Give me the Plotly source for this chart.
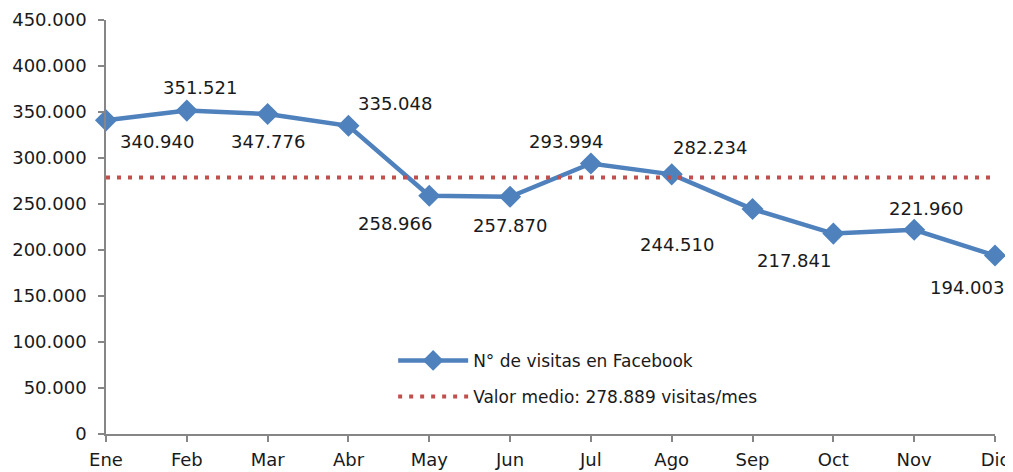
import plotly.graph_objects as go

months = ["Ene", "Feb", "Mar", "Abr", "May", "Jun", "Jul", "Ago", "Sep", "Oct", "Nov", "Dic"]
visits = [340940, 351521, 347776, 335048, 258966, 257870, 293994, 282234, 244510, 217841, 221960, 194003]
mean_value = 278889
y_ticks = [0, 50000, 100000, 150000, 200000, 250000, 300000, 350000, 400000, 450000]

series_name = "N° de visitas en Facebook"
mean_name = "Valor medio: 278.889 visitas/mes"

# label offsets (pixels) relative to each point
label_dx = [51, 13, 0, 47, -34, 0, -25, 38, -76, -39, 12, -28]
label_dy = [-21, 23, -27, 22, -28, -29, 22, 27, -35, -27, 21, -32]

blue = "#4F81BD"
red = "#C0504D"
axis_col = "#868686"
font_family = "DejaVu Sans"

def fmt(v):
    return f"{v:,}".replace(",", ".")

fig = go.Figure()
fig.add_trace(go.Scatter(
    x=months, y=visits, mode="lines+markers", name=series_name,
    line=dict(color=blue, width=4.5),
    marker=dict(symbol="diamond", size=17, color=blue),
    cliponaxis=False, legendgroup="a",
))
fig.add_trace(go.Scatter(
    x=months, y=[mean_value] * len(months), mode="lines", name=mean_name,
    line=dict(color=red, width=4, dash="4px,7px"),
    cliponaxis=False, legendgroup="b",
))

for m, v, dx, dy in zip(months, visits, label_dx, label_dy):
    fig.add_annotation(x=m, y=v, text=fmt(v), showarrow=False,
                       xshift=dx, yshift=dy,
                       font=dict(size=18, color="#1a1a1a", family=font_family))

# page body has an 8px margin, so the figure is drawn 8px smaller and shifted
fig.update_layout(
    width=1005, height=464,
    margin=dict(l=98, r=18, t=12, b=38, autoexpand=False),
    plot_bgcolor="white", paper_bgcolor="white",
    separators=",.",
    font=dict(family=font_family, size=18, color="#1a1a1a"),
    showlegend=True,
    legend=dict(x=0.323, y=0.22, xanchor="left", yanchor="top",
                bgcolor="rgba(0,0,0,0)", font=dict(size=17),
                itemwidth=70, traceorder="grouped", tracegroupgap=11),
)
fig.update_xaxes(
    type="category", range=[0, len(months) - 1], automargin=False,
    showline=True, linecolor=axis_col, linewidth=1.5,
    ticks="outside", ticklen=6, tickcolor=axis_col, tickwidth=1.5,
    ticklabelstandoff=3,
    showgrid=False, zeroline=False, tickfont=dict(size=18),
)
fig.update_yaxes(
    range=[0, 450000], tickvals=y_ticks, tickformat=",d", automargin=False,
    showline=True, linecolor=axis_col, linewidth=1.5,
    ticks="outside", ticklen=6, tickcolor=axis_col, tickwidth=1.5,
    ticklabelstandoff=8,
    showgrid=False, zeroline=False, tickfont=dict(size=18),
)

fig.write_html("out.html")
